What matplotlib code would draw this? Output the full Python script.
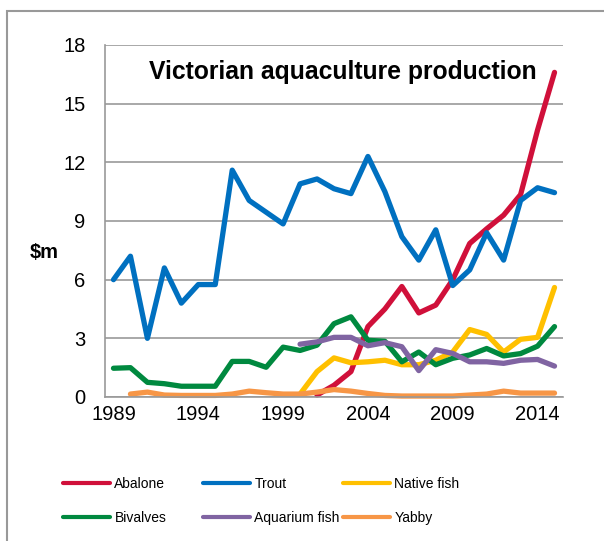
import matplotlib
matplotlib.use("Agg")
import matplotlib.pyplot as plt
from matplotlib.patches import Rectangle
import numpy as np

plt.rcParams['font.family'] = ['Liberation Sans', 'DejaVu Sans']

nan = np.nan
years = np.arange(1989, 2016)

abalone = [nan] * 12 + [0.1, 0.6, 1.3, 3.6, 4.5, 5.65, 4.3, 4.7, 6.0, 7.85, 8.6, 9.3, 10.35, 13.65, 16.6]
trout = [6.0, 7.2, 3.0, 6.6, 4.8, 5.75, 5.75, 11.6, 10.05, 9.45, 8.85, 10.9, 11.15, 10.65,
         10.4, 12.3, 10.5, 8.2, 7.0, 8.55, 5.7, 6.5, 8.4, 7.0, 10.05, 10.7, 10.45]
native_fish = [nan] * 11 + [0.15, 1.3, 2.0, 1.75, 1.8, 1.88, 1.65, 1.65, 1.88, 2.3, 3.45, 3.2,
                            2.3, 2.95, 3.05, 5.6]
bivalves = [1.47, 1.5, 0.75, 0.68, 0.55, 0.55, 0.55, 1.82, 1.82, 1.52, 2.55, 2.38, 2.65, 3.75,
            4.1, 2.9, 2.85, 1.8, 2.3, 1.65, 1.98, 2.15, 2.48, 2.1, 2.22, 2.6, 3.6]
aquarium_fish = [nan] * 11 + [2.7, 2.82, 3.05, 3.05, 2.62, 2.78, 2.57, 1.35, 2.42, 2.23, 1.8,
                              1.8, 1.72, 1.88, 1.92, 1.58]
yabby = [nan, 0.15, 0.25, 0.1, 0.08, 0.08, 0.08, 0.15, 0.3, 0.22, 0.15, 0.15, 0.25, 0.38, 0.3,
         0.18, 0.08, 0.05, 0.05, 0.05, 0.05, 0.1, 0.15, 0.3, 0.2, 0.2, 0.2]

series = [
    ("Abalone", abalone, "#D0103A"),
    ("Trout", trout, "#0070C0"),
    ("Native fish", native_fish, "#FFC000"),
    ("Bivalves", bivalves, "#00893F"),
    ("Aquarium fish", aquarium_fish, "#8064A2"),
    ("Yabby", yabby, "#F79646"),
]

W, H = 604, 541
fig = plt.figure(figsize=(W / 100, H / 100), dpi=100)
ax = fig.add_axes([105 / W, 1 - 397 / H, (563 - 105) / W, (397 - 45) / H])

lines = {}
for name, vals, color in series:
    ln, = ax.plot(years, vals, color=color, lw=3.8, label=name,
                  solid_joinstyle='round', solid_capstyle='round', clip_on=False)
    lines[name] = ln

ax.set_xlim(1988.5, 2015.5)
ax.set_ylim(0, 18)
ax.set_xticks([1989, 1994, 1999, 2004, 2009, 2014])
ax.set_yticks(np.arange(0, 19, 3))
ax.tick_params(length=0, labelsize=14.5)
ax.tick_params(axis='y', pad=14)
ax.tick_params(axis='x', pad=6)
ax.grid(axis='y', color='#999999', lw=1.2)
ax.set_axisbelow(True)
for s in ['top', 'right']:
    ax.spines[s].set_visible(False)
for s in ['left', 'bottom']:
    ax.spines[s].set_color('#999999')
    ax.spines[s].set_linewidth(1.2)

fig.text(343 / W, 1 - 72 / H, "Victorian aquaculture production", ha='center', va='center',
         fontsize=17.8, fontweight='bold')
fig.text(44 / W, 1 - 253 / H, r"\$m", ha='center', va='center', fontsize=14.5, fontweight='bold')

# three legend columns, each two rows
cols = [("Abalone", "Bivalves"), ("Trout", "Aquarium fish"), ("Native fish", "Yabby")]
for i, (a, b) in enumerate(cols):
    leg = fig.legend(handles=[lines[a], lines[b]], loc='center left',
                     bbox_to_anchor=((63 + 140 * i) / W, 1 - 501 / H),
                     frameon=False, fontsize=10, handlelength=3.4, handletextpad=0.3,
                     labelspacing=1.4, borderpad=0, borderaxespad=0)
    for h in leg.legend_handles:
        h.set_linewidth(3)

fig.patches.append(Rectangle((7 / W, -0.1), 1.2, 1 - 11 / H + 0.1, transform=fig.transFigure,
                             fill=False, edgecolor='#999999', lw=1.5))

fig.savefig("out.png", dpi=100)
